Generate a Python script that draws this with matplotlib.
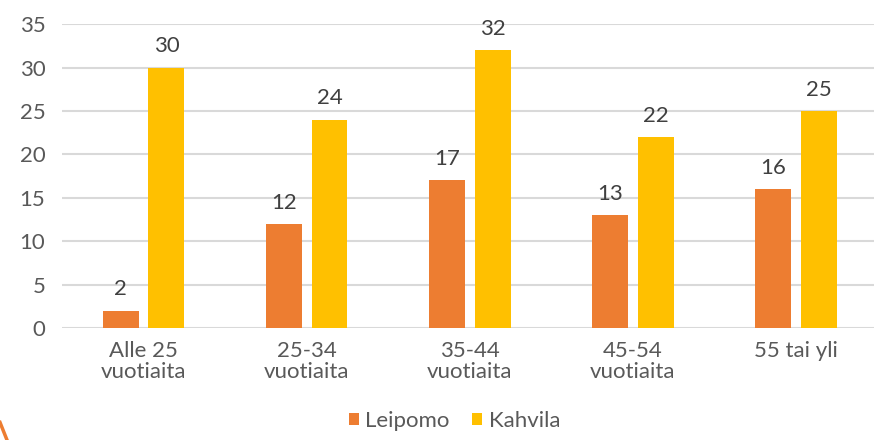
import numpy as np
import matplotlib
matplotlib.use('Agg')
import matplotlib.pyplot as plt
from matplotlib.lines import Line2D

categories = ['Alle 25\nvuotiaita', '25-34\nvuotiaita', '35-44\nvuotiaita', '45-54\nvuotiaita', '55 tai yli']
leipomo = [2, 12, 17, 13, 16]
kahvila = [30, 24, 32, 22, 25]
yticks = [0, 5, 10, 15, 20, 25, 30, 35]

orange = '#ED7D31'
yellow = '#FFC000'
grey = '#595959'

plt.rcParams['font.family'] = ['Lato', 'DejaVu Sans']

fig = plt.figure(figsize=(8.74, 4.4), dpi=100)
ax = fig.add_axes([0.071, 0.2545, 0.933, 0.6905])

x = np.arange(len(categories))
w = 0.22
off = 0.14
b1 = ax.bar(x - off, leipomo, w, color=orange, label='Leipomo', zorder=3)
b2 = ax.bar(x + off, kahvila, w, color=yellow, label='Kahvila', zorder=3)

for bars, vals in ((b1, leipomo), (b2, kahvila)):
    for r, v in zip(bars, vals):
        ax.text(r.get_x() + r.get_width() / 2, v + 1.3, str(v), ha='center', va='bottom',
                fontsize=16, color='#404040')

ax.set_xlim(-0.5, len(categories) - 0.5)
ax.set_ylim(0, 35)
ax.set_yticks(yticks)
ax.set_xticks(x)
ax.set_xticklabels(categories, linespacing=1.1)
ax.tick_params(axis='both', length=0, labelsize=16, labelcolor=grey)
ax.tick_params(axis='y', pad=12)
ax.tick_params(axis='x', pad=9)
ax.yaxis.grid(True, color='#D9D9D9', linewidth=1.5, zorder=0)
for s in ax.spines.values():
    s.set_visible(False)

leg = fig.legend(handles=[b1, b2], loc='lower center', bbox_to_anchor=(0.52, -0.025), ncol=2,
                 frameon=False, fontsize=16, handlelength=0.45, handleheight=0.45,
                 handletextpad=0.3, columnspacing=1.0)
for t in leg.get_texts():
    t.set_color(grey)

# decorative arc piece at bottom-left corner
fig.add_artist(Line2D([0.0, 0.008], [0.04, 0.0], color=orange, linewidth=2.5,
                      transform=fig.transFigure))

plt.savefig('out.png', dpi=100)
